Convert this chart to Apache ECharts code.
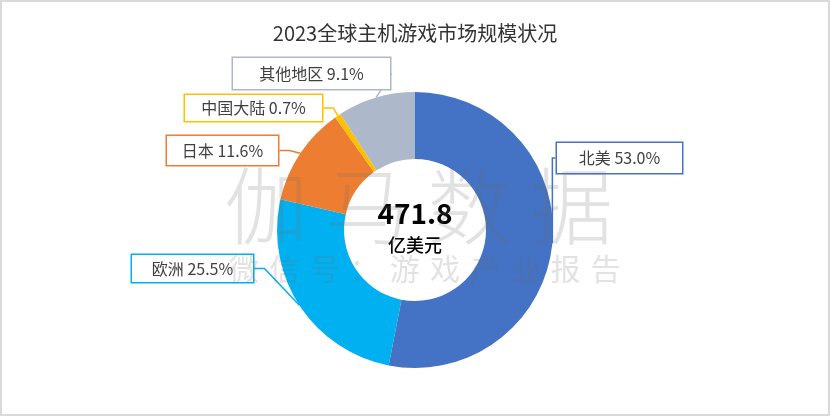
<!DOCTYPE html>
<html>
<head>
<meta charset="utf-8">
<script src="https://cdn.jsdelivr.net/npm/echarts@6/dist/echarts.min.js"></script>
<style>
html,body{margin:0;padding:0;background:#fff;}
#chart{width:830px;height:416px;}
</style>
</head>
<body>
<div id="chart"></div>
<script>
// ---- data ----
const categories = ['北美', '欧洲', '日本', '中国大陆', '其他地区'];
const shares = [53.0, 25.5, 11.6, 0.7, 9.1];
const colors = ['#4472C4', '#00B0F0', '#ED7D31', '#FFC000', '#ADB9CA'];
const totalValue = '471.8';
const totalUnit = '亿美元';
const titleText = '2023全球主机游戏市场规模状况';
const watermarkMain = '伽马数据';
const watermarkSub = '微信号：游戏产业报告';

// ---- label layout (box centre x, y, width, height) ----
const labelBoxes = [
  [619.5, 158, 125, 30],
  [192.5, 268.5, 121, 27],
  [222.5, 150.5, 111, 29],
  [253.5, 108, 137, 26],
  [311.5, 73.5, 157, 31]
];

const font = '"Noto Sans CJK SC", "Microsoft YaHei", sans-serif';

const chart = echarts.init(document.getElementById('chart'), null, {renderer: 'canvas'});

const data = categories.map((c, i) => ({
  name: c,
  value: shares[i],
  itemStyle: {color: colors[i]},
  label: {
    borderColor: colors[i],
    width: labelBoxes[i][2],
    height: labelBoxes[i][3],
    lineHeight: labelBoxes[i][3]
  },
  labelLine: {lineStyle: {color: colors[i], width: 1.5}}
}));

// watermark text elements (drawn on a layer above the pie)
const wm = [];
watermarkMain.split('').forEach((ch, i) => {
  wm.push({
    type: 'text', zlevel: 5, z: 100, silent: true,
    x: 266 + i * 101.7, y: 206,
    style: {text: ch, font: '300 84px ' + font, fill: 'rgba(110,110,110,0.2)',
      textAlign: 'center', textVerticalAlign: 'middle'}
  });
});
watermarkSub.split('').forEach((ch, i) => {
  wm.push({
    type: 'text', zlevel: 5, z: 100, silent: true,
    x: 244 + i * 40.2, y: 269,
    style: {text: ch, font: '30px ' + font, fill: 'rgba(110,110,110,0.2)',
      textAlign: 'center', textVerticalAlign: 'middle'}
  });
});

const option = {
  backgroundColor: '#fff',
  animation: false,
  title: {
    text: titleText,
    left: 'center',
    top: 18,
    textStyle: {fontFamily: font, fontSize: 20, fontWeight: 'normal', color: '#333333'}
  },
  graphic: [
    {type: 'rect', silent: true, z: 0,
      shape: {x: 1, y: 1, width: 828, height: 414},
      style: {fill: 'none', stroke: '#d9d9d9', lineWidth: 2}},
    {type: 'text', z: 50, silent: true, x: 415, y: 213,
      style: {text: totalValue, font: 'bold 28px ' + font, fill: '#000',
        textAlign: 'center', textVerticalAlign: 'middle'}},
    {type: 'text', z: 50, silent: true, x: 415, y: 245,
      style: {text: totalUnit, font: '500 18px ' + font, fill: '#000',
        textAlign: 'center', textVerticalAlign: 'middle'}}
  ].concat(wm),
  series: [{
    type: 'pie',
    center: [415, 230],
    radius: [71, 138],
    startAngle: 90,
    clockwise: true,
    avoidLabelOverlap: false,
    itemStyle: {borderWidth: 0},
    label: {
      show: true,
      position: 'outside',
      formatter: p => p.name + ' ' + p.value.toFixed(1) + '%',
      fontFamily: font,
      fontSize: 16,
      color: '#404040',
      backgroundColor: '#fff',
      borderWidth: 1.5,
      padding: 0,
      align: 'center',
      verticalAlign: 'middle'
    },
    labelLine: {show: true, length: 10, length2: 10, smooth: false},
    labelLayout: function (params) {
      const b = labelBoxes[params.dataIndex];
      return {x: b[0], y: b[1], align: 'center', verticalAlign: 'middle'};
    },
    emphasis: {disabled: true},
    data: data
  }]
};
chart.setOption(option);
</script>
</body>
</html>
